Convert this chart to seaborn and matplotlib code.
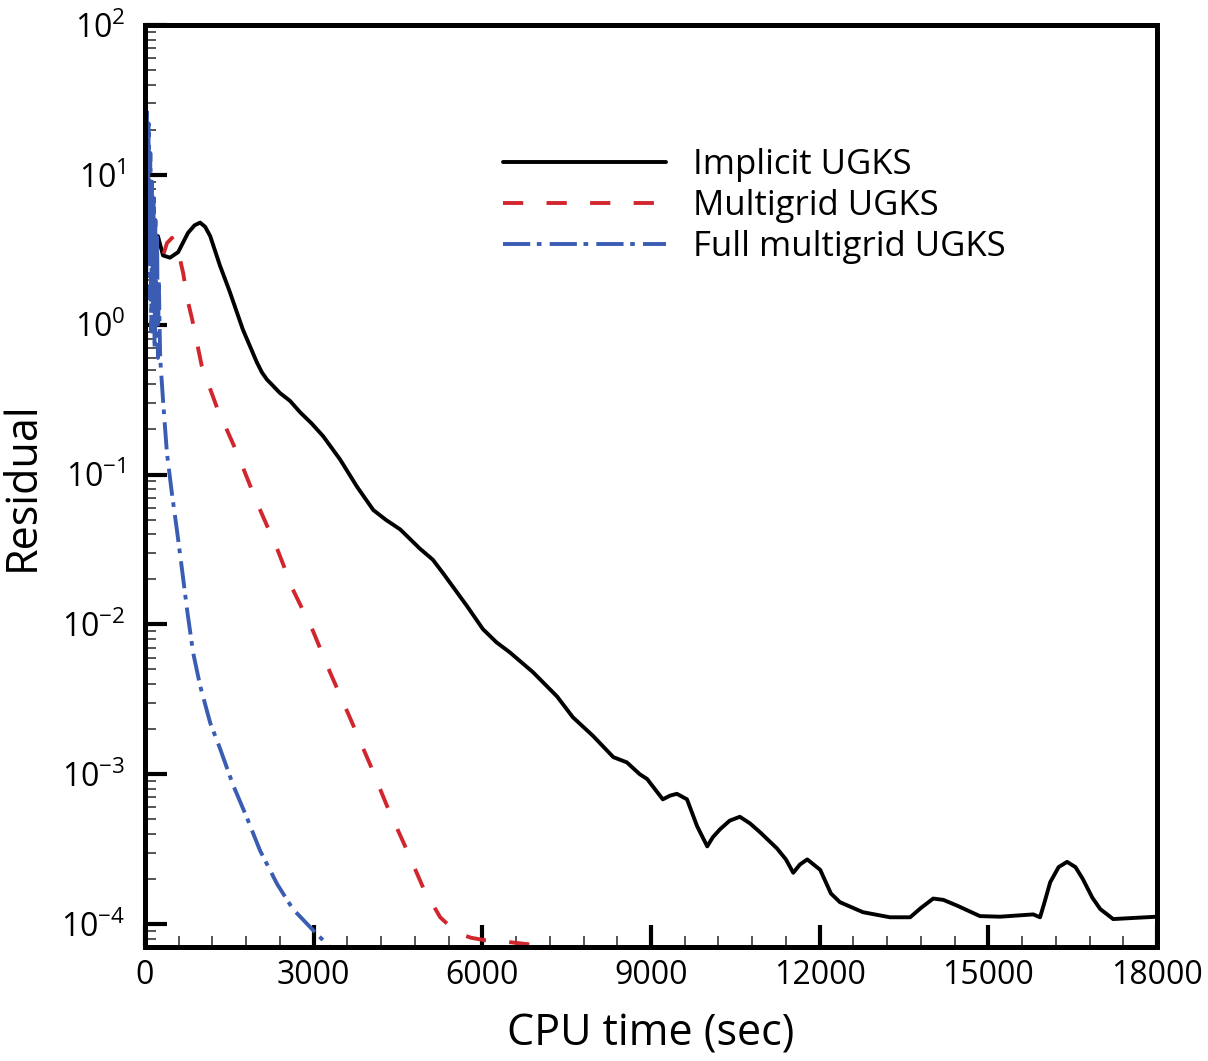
import numpy as np
import pandas as pd
import matplotlib
matplotlib.use('Agg')
import matplotlib.pyplot as plt
import seaborn as sns
from matplotlib.ticker import MultipleLocator, LogLocator, NullFormatter

# Residual history (CPU time in sec, residual)
implicit_time = [230, 320, 445, 590, 765, 880, 980, 1070, 1160, 1330, 1510, 1740, 1990, 2080, 2170,
                 2280, 2400, 2580, 2760, 2960, 3170, 3470, 3770, 4060, 4280, 4540, 4890, 5120, 5300,
                 5730, 6010, 6250, 6490, 6900, 7330, 7610, 7970, 8330, 8570, 8800, 8930, 9210,
                 9340, 9460, 9640, 9820, 10000, 10100, 10230, 10400, 10580, 10760, 10940, 11240,
                 11400, 11530, 11650, 11780, 12010, 12200, 12360, 12770, 13250, 13610, 13800,
                 14020, 14200, 14440, 14850, 15210, 15800, 15920, 16000, 16100, 16250, 16400,
                 16550, 16680, 16850, 16990, 17220, 18000]
implicit_res = [3.9, 2.9, 2.8, 3.05, 4.1, 4.6, 4.8, 4.5, 3.9, 2.5, 1.65, 0.93, 0.56, 0.48, 0.43,
                0.39, 0.35, 0.31, 0.26, 0.22, 0.18, 0.126, 0.083, 0.058, 0.05, 0.043, 0.032, 0.027,
                0.022, 0.0132, 0.0093, 0.0076, 0.0065, 0.0048, 0.0033, 0.0024, 0.0018, 0.0013,
                0.0012, 0.001, 0.00093, 0.00068, 0.00072, 0.00074, 0.00068, 0.00045, 0.00033,
                0.00038, 0.00043, 0.00049, 0.00052, 0.00047, 0.00041, 0.00032, 0.00027, 0.00022,
                0.00025, 0.00027, 0.00023, 0.00016, 0.00014, 0.00012, 0.000111, 0.000111,
                0.000128, 0.000148, 0.000145, 0.000133, 0.000113, 0.000112, 0.000116, 0.000111,
                0.00014, 0.00019, 0.00024, 0.00026, 0.00024, 0.0002, 0.00015, 0.000126, 0.000108,
                0.000112]

multigrid_time = [120, 270, 390, 480, 590, 680, 750, 840, 930, 1010, 1280, 1640, 1990, 2350,
                  2630, 2990, 3290, 3650, 4000, 4300, 4660, 4950, 5250, 5420, 5600, 5800, 6050,
                  6450, 7000]
multigrid_res = [4.0, 2.5, 3.5, 3.8, 3.1, 2.2, 1.5, 1.08, 0.74, 0.53, 0.28, 0.139, 0.065, 0.032,
                 0.0171, 0.009, 0.0048, 0.00236, 0.00117, 0.00062, 0.00031, 0.000174, 0.000111,
                 0.000097, 0.000086, 0.000081, 0.000078, 0.000076, 0.000072]

fmg_time = [20, 35, 50, 65, 80, 95, 110, 125, 140, 155, 170, 185, 200, 215, 230, 245, 270, 320,
            390, 480, 570, 660, 750, 855, 980, 1160, 1330, 1565, 1815, 2045, 2350, 2630, 2990, 3290]
fmg_res = [1.0, 28, 3, 22, 1.5, 14, 0.9, 9, 1.3, 7, 0.7, 5, 1.0, 4, 0.6, 2.0, 0.6, 0.316,
           0.139, 0.074, 0.042, 0.023, 0.0124, 0.0065, 0.0039, 0.0022, 0.0015, 0.00085,
           0.00051, 0.00031, 0.000185, 0.000126, 0.000091, 0.00007]

y_ticks = [1e-4, 1e-3, 1e-2, 1e-1, 1e0, 1e1, 1e2]

RED = '#d2262f'
BLUE = '#3a5db3'

sns.set_theme(style='ticks')
plt.rcParams['font.family'] = ['Open Sans', 'DejaVu Sans']
plt.rcParams['mathtext.default'] = 'regular'
plt.rcParams['axes.unicode_minus'] = False
plt.rcParams['text.color'] = 'black'
plt.rcParams['axes.labelcolor'] = 'black'

fig = plt.figure(figsize=(12.08, 10.61), dpi=100)
ax = fig.add_axes([145 / 1208, 1 - 947 / 1061, 1012 / 1208, 922 / 1061])

lw = 2.8
sns.lineplot(x=implicit_time, y=implicit_res, ax=ax, color='black', lw=lw,
             label='Implicit UGKS')
sns.lineplot(x=multigrid_time, y=multigrid_res, ax=ax, color=RED, lw=lw,
             linestyle=(0, (5.2, 6.0)), label='Multigrid UGKS')
sns.lineplot(x=fmg_time, y=fmg_res, ax=ax, color=BLUE, lw=lw,
             linestyle=(0, (7.0, 1.7, 1.2, 2.1)), label='Full multigrid UGKS')

ax.set_yscale('log')
ax.set_xlim(0, 18000)
ax.set_ylim(7.03e-5, 100)
ax.set_xticks(np.arange(0, 18001, 3000))
ax.xaxis.set_minor_locator(MultipleLocator(600))
ax.set_yticks(y_ticks)
ax.yaxis.set_minor_locator(LogLocator(base=10, subs=np.arange(2, 10), numticks=20))
ax.yaxis.set_minor_formatter(NullFormatter())

ax.tick_params(which='major', direction='in', length=16, width=3.0, labelsize=23,
               colors='black', top=False, right=False)
ax.tick_params(which='minor', direction='in', length=8, width=1.1, top=False, right=False)
ax.tick_params(axis='y', which='major', pad=14)
ax.tick_params(axis='x', which='major', pad=9)

for s in ax.spines.values():
    s.set_linewidth(3.6)
    s.set_color('black')

ax.set_xlabel('CPU time (sec)', fontsize=31, labelpad=14)
ax.set_ylabel('Residual', fontsize=31, labelpad=12)

leg = ax.legend(loc='upper left', bbox_to_anchor=(0.337, 0.885), frameon=False,
                fontsize=25, handlelength=4.67, handletextpad=0.8, labelspacing=0.2,
                borderpad=0)
for line in leg.get_lines():
    line.set_linewidth(lw)
for t in leg.get_texts():
    t.set_color('black')

fig.savefig('out.png', dpi=100)
